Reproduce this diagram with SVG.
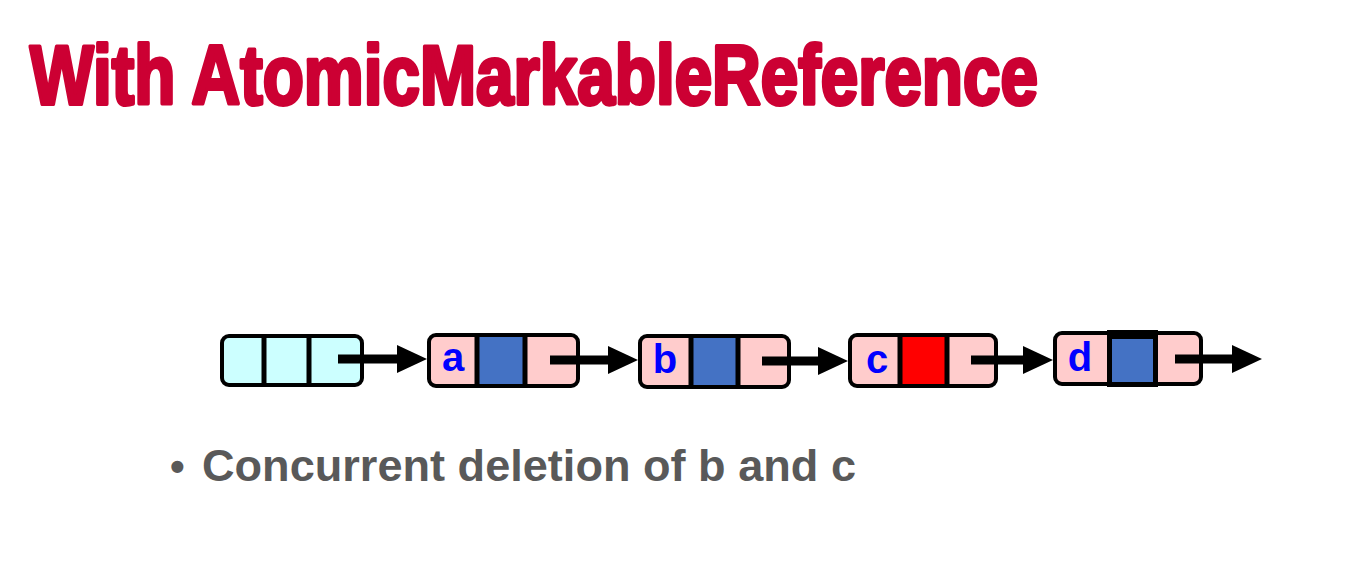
<svg xmlns="http://www.w3.org/2000/svg" width="1364" height="573" viewBox="0 0 1364 573">
  <style>
    .title { font-family: "Liberation Sans", Arial, sans-serif; font-weight: bold; fill: #CC0033; stroke: #CC0033; stroke-width: 4; stroke-linejoin: round; }
    .bullet { font-family: "Liberation Sans", Arial, sans-serif; font-weight: bold; fill: #595959; }
    .box { stroke: #000; stroke-width: 4; }
    .sent { fill: #CCFFFF; }
    .pink { fill: #FFCCCC; }
    .div { stroke: #000; stroke-width: 5; }
    .blue { fill: #4472C4; }
    .red { fill: #FF0000; }
    .lbl { font-family: "Liberation Sans", Arial, sans-serif; font-weight: bold; font-size: 40px; fill: #0000FF; text-anchor: middle; }
    .arrow { stroke: #000; stroke-width: 9; fill: none; marker-end: url(#head); }
  </style>
  <defs>
    <marker id="head" markerUnits="userSpaceOnUse" markerWidth="30" markerHeight="28" refX="4" refY="14" orient="auto" overflow="visible">
      <path d="M0,0 L30,14 L0,28 Z" fill="#000"/>
    </marker>
  </defs>
  <rect width="1364" height="573" fill="#fff"/>

  <g id="title">
    <text class="title" x="30" y="104" font-size="84" textLength="1008" lengthAdjust="spacingAndGlyphs">With AtomicMarkableReference</text>
  </g>

  <g id="node-head">
    <rect class="box sent" x="222" y="336" width="140" height="49" rx="7"/>
    <line class="div" x1="264" y1="336" x2="264" y2="385"/>
    <line class="div" x1="309" y1="336" x2="309" y2="385"/>
  </g>

  <g id="node-a">
    <rect class="box pink" x="429" y="335" width="149" height="51" rx="7"/>
    <rect class="blue" x="477" y="337" width="48" height="47"/>
    <line class="div" x1="477" y1="335" x2="477" y2="386"/>
    <line class="div" x1="525" y1="335" x2="525" y2="386"/>
    <text class="lbl" x="453" y="371">a</text>
  </g>

  <g id="node-b">
    <rect class="box pink" x="640" y="336" width="149" height="51" rx="7"/>
    <rect class="blue" x="691" y="338" width="47" height="47"/>
    <line class="div" x1="691" y1="336" x2="691" y2="387"/>
    <line class="div" x1="738" y1="336" x2="738" y2="387"/>
    <text class="lbl" x="665" y="373">b</text>
  </g>

  <g id="node-c">
    <rect class="box pink" x="850" y="335" width="146" height="51" rx="7"/>
    <rect class="red" x="900" y="337" width="47" height="47"/>
    <line class="div" x1="900" y1="335" x2="900" y2="386"/>
    <line class="div" x1="947" y1="335" x2="947" y2="386"/>
    <text class="lbl" x="877" y="373">c</text>
  </g>

  <g id="node-d">
    <rect class="box pink" x="1055" y="333" width="146" height="51" rx="7"/>
    <rect x="1107" y="330" width="51" height="57" fill="#000"/>
    <rect class="blue" x="1112" y="339" width="41" height="43"/>
    <text class="lbl" x="1080" y="371">d</text>
  </g>

  <g id="connectors">
    <line class="arrow" x1="338" y1="359" x2="401" y2="359"/>
    <line class="arrow" x1="550" y1="360" x2="612" y2="360"/>
    <line class="arrow" x1="762" y1="361" x2="822" y2="361"/>
    <line class="arrow" x1="971" y1="360" x2="1027" y2="360"/>
    <line class="arrow" x1="1175" y1="359" x2="1236" y2="359"/>
  </g>

  <g id="bullets">
    <text class="bullet" x="170" y="481" font-size="42">•</text>
    <text class="bullet" x="202" y="481" font-size="45" textLength="654" lengthAdjust="spacingAndGlyphs">Concurrent deletion of b and c</text>
  </g>
</svg>
